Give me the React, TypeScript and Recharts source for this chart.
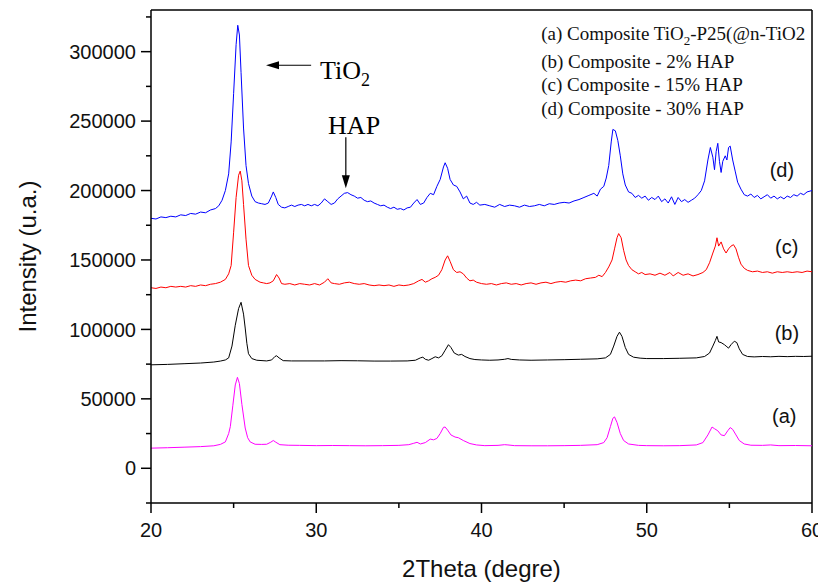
import React from "react";
import {
  LineChart,
  Line,
  XAxis,
  YAxis,
  ReferenceLine,
  ReferenceDot,
} from "recharts";

// 2Theta (deg), intensity (thousands)
const curveA: [number, number][] = [
  [20.0, 14.5], [21.0, 14.8], [22.0, 15.2], [23.0, 15.6], [23.8, 16.2], [24.2, 17.2],
  [24.5, 19], [24.7, 25], [24.8, 30], [24.95, 45], [25.1, 60], [25.23, 65.5],
  [25.35, 61], [25.5, 46], [25.7, 29], [25.85, 22], [26.0, 19], [26.3, 17.3],
  [26.7, 17.2], [27.0, 17.3], [27.25, 18.8], [27.4, 20], [27.55, 18.8], [27.8, 17],
  [28.3, 16.6], [29.0, 16.5], [30.0, 16.3], [31.0, 16.4], [32.0, 16.3], [33.0, 16.2],
  [34.0, 16.3], [35.0, 16.5], [35.6, 17], [35.9, 18], [36.1, 18.7], [36.3, 17.5],
  [36.6, 18.5], [36.9, 21], [37.1, 20.5], [37.3, 21.5], [37.5, 25], [37.7, 29.5],
  [37.8, 29.7], [37.95, 27.5], [38.15, 24], [38.4, 22.5], [38.6, 22], [38.9, 20],
  [39.3, 17.8], [39.7, 16.8], [40.2, 16.3], [41.0, 16.5], [41.4, 17], [41.6, 16.8],
  [42.0, 16.3], [43.0, 16.2], [44.0, 16.2], [45.0, 16.3], [46.0, 16.5], [47.0, 17],
  [47.4, 18.5], [47.6, 22], [47.8, 30], [47.95, 36], [48.05, 37], [48.2, 33],
  [48.4, 25], [48.6, 20], [48.9, 17.5], [49.5, 16.5], [50.0, 16.3], [51.0, 16.2],
  [52.0, 16.3], [53.0, 16.8], [53.4, 18.5], [53.7, 24], [53.95, 29.7], [54.1, 28.5],
  [54.3, 27], [54.5, 24], [54.7, 23.5], [54.9, 27], [55.05, 29.3], [55.2, 28],
  [55.4, 24], [55.6, 20], [55.9, 17.5], [56.3, 16.6], [57.0, 16.5], [57.5, 16.8],
  [58.0, 16.3], [59.0, 16.4], [60.0, 16.2],
];

const curveB: [number, number][] = [
  [20.0, 74.5], [21.0, 74.8], [22.0, 75.3], [23.0, 75.8], [23.8, 76.5], [24.2, 77.2],
  [24.5, 78], [24.7, 79.5], [24.9, 88], [25.1, 103], [25.3, 115], [25.45, 119.5],
  [25.6, 111], [25.7, 101], [25.8, 90], [25.9, 82.5], [26.1, 79], [26.4, 77.8],
  [27.0, 77.3], [27.3, 78], [27.5, 80.5], [27.6, 81], [27.75, 79.5], [28.0, 77.5],
  [28.5, 77.3], [29.5, 77.3], [30.5, 77.3], [31.5, 77.5], [32.5, 77.4], [33.5, 77.2],
  [34.5, 77.2], [35.5, 77.3], [36.0, 77.8], [36.3, 79.5], [36.45, 80], [36.6, 78.5],
  [36.8, 77.8], [37.0, 79], [37.2, 80.3], [37.4, 79.5], [37.6, 81], [37.8, 85],
  [38.0, 89], [38.15, 87], [38.35, 83], [38.6, 81.5], [38.8, 82], [39.0, 80.5],
  [39.3, 79], [39.6, 78.3], [40.0, 78], [40.5, 77.8], [41.0, 78], [41.4, 78.5],
  [41.6, 79], [41.8, 78.4], [42.3, 78], [43.0, 77.8], [44.0, 78], [45.0, 78.2],
  [46.0, 78.5], [47.0, 78.8], [47.5, 79.5], [47.8, 82], [48.0, 88], [48.2, 95],
  [48.35, 98], [48.5, 95], [48.7, 87], [48.9, 82], [49.2, 80], [49.6, 79.3],
  [50.0, 79], [51.0, 79], [52.0, 79.2], [53.0, 79.5], [53.5, 80.5], [53.8, 83],
  [54.0, 88], [54.15, 92], [54.25, 95], [54.35, 91], [54.5, 90.5], [54.7, 89],
  [54.85, 87.5], [54.95, 86.5], [55.1, 89], [55.3, 91.5], [55.45, 90.5], [55.6, 86],
  [55.8, 82], [56.1, 80.5], [56.5, 80.2], [57.0, 80.5], [57.5, 80.3], [58.0, 80.6],
  [58.5, 80.4], [59.0, 80.6], [59.5, 80.5], [60.0, 80.7],
];

const curveC: [number, number][] = [
  [20.0, 130], [20.3, 129.5], [20.6, 130.5], [20.9, 130], [21.2, 131], [21.5, 130.5],
  [21.8, 131], [22.1, 130.5], [22.4, 131.5], [22.7, 131], [23.0, 132], [23.3, 131.5],
  [23.6, 132.5], [23.9, 133], [24.2, 134], [24.5, 136], [24.7, 140], [24.85, 146],
  [25.0, 170], [25.15, 195], [25.3, 211], [25.4, 214], [25.5, 207], [25.6, 190],
  [25.75, 165], [25.9, 146], [26.1, 139], [26.3, 136], [26.6, 134], [26.8, 133.5],
  [27.0, 133], [27.2, 133.5], [27.4, 135], [27.6, 139.5], [27.75, 137], [27.9, 133],
  [28.1, 132.5], [28.4, 133], [28.7, 132], [29.0, 133], [29.3, 132.5], [29.6, 132],
  [29.9, 133], [30.2, 132], [30.5, 134], [30.7, 136.5], [30.9, 133.5], [31.1, 133],
  [31.4, 132.5], [31.7, 133.5], [32.0, 134], [32.3, 133], [32.6, 132.5], [32.9, 133],
  [33.2, 132], [33.5, 131.5], [33.8, 132], [34.1, 131.5], [34.4, 132], [34.7, 131],
  [35.0, 132], [35.3, 131.5], [35.6, 132], [35.9, 133], [36.2, 135], [36.4, 136],
  [36.6, 134], [36.8, 135], [37.0, 136.5], [37.2, 137.5], [37.4, 139], [37.6, 143],
  [37.8, 150], [37.95, 153], [38.1, 149], [38.3, 143], [38.5, 141], [38.7, 141.5],
  [38.9, 140], [39.1, 137], [39.3, 135], [39.5, 135.5], [39.7, 134], [40.0, 133],
  [40.3, 132.5], [40.6, 133], [40.9, 132], [41.2, 133], [41.5, 133.5], [41.8, 132.5],
  [42.1, 133], [42.4, 132], [42.7, 133], [43.0, 133.5], [43.3, 132.5], [43.6, 133.5],
  [43.9, 134], [44.2, 133], [44.5, 134], [44.8, 134.5], [45.1, 134], [45.4, 135],
  [45.7, 135.5], [46.0, 135], [46.3, 136.5], [46.6, 137], [46.9, 137.5], [47.1, 139],
  [47.3, 138], [47.5, 141], [47.7, 145], [47.9, 150], [48.05, 158], [48.2, 166],
  [48.3, 169], [48.45, 166], [48.6, 157], [48.75, 150], [48.9, 146], [49.1, 143],
  [49.3, 141.5], [49.5, 140], [49.7, 141], [49.9, 139.5], [50.2, 140], [50.5, 139],
  [50.8, 140.5], [51.1, 139], [51.4, 141], [51.6, 138.5], [51.9, 141], [52.2, 139],
  [52.5, 140], [52.8, 138.5], [53.1, 139.5], [53.4, 141], [53.6, 143], [53.8, 148],
  [54.0, 155], [54.15, 160], [54.25, 166], [54.35, 160], [54.5, 163], [54.65, 158],
  [54.8, 155], [54.95, 158], [55.1, 160], [55.25, 161], [55.4, 158], [55.55, 152],
  [55.7, 147], [55.9, 144], [56.1, 142.5], [56.4, 141.5], [56.7, 142], [57.0, 141],
  [57.3, 141.5], [57.6, 140.5], [57.9, 141.5], [58.2, 141], [58.5, 141.5], [58.8, 141],
  [59.1, 141.5], [59.4, 141], [59.7, 142], [60.0, 141.5],
];

const curveD: [number, number][] = [
  [20.0, 180], [20.3, 179.5], [20.6, 181], [20.9, 180.5], [21.2, 181.5], [21.5, 181],
  [21.8, 182.5], [22.1, 182], [22.4, 183.5], [22.7, 183], [23.0, 184.5], [23.3, 184],
  [23.6, 186], [23.9, 187], [24.1, 189], [24.3, 193], [24.5, 200], [24.7, 212],
  [24.85, 235], [25.0, 270], [25.15, 305], [25.25, 319], [25.35, 312], [25.45, 285],
  [25.6, 245], [25.75, 218], [25.9, 205], [26.1, 196], [26.3, 192], [26.5, 191],
  [26.7, 190.5], [26.9, 190], [27.1, 191], [27.3, 196], [27.4, 199], [27.55, 195],
  [27.7, 190], [27.9, 188], [28.1, 187.5], [28.3, 188.5], [28.5, 189.5], [28.7, 188.5],
  [28.9, 189.5], [29.1, 190], [29.3, 189], [29.5, 190], [29.7, 189], [29.9, 190],
  [30.1, 189], [30.3, 191], [30.5, 194], [30.7, 192], [30.9, 190], [31.1, 191],
  [31.3, 194], [31.5, 196], [31.7, 198], [31.9, 198.5], [32.1, 197], [32.3, 196],
  [32.5, 194.5], [32.7, 195], [32.9, 193], [33.1, 192], [33.3, 192.5], [33.5, 191],
  [33.7, 190], [33.9, 189], [34.1, 189.5], [34.3, 188], [34.5, 187], [34.7, 188],
  [34.9, 186.5], [35.1, 187], [35.3, 186], [35.5, 187.5], [35.7, 188], [35.9, 191],
  [36.1, 193.5], [36.3, 190], [36.5, 191], [36.7, 195], [36.9, 198], [37.1, 197],
  [37.3, 203], [37.5, 208], [37.7, 217], [37.8, 220], [37.95, 216], [38.1, 208],
  [38.3, 204], [38.5, 203], [38.7, 199], [38.9, 194], [39.1, 196], [39.3, 191],
  [39.5, 190], [39.7, 191.5], [39.9, 189.5], [40.2, 190], [40.5, 189], [40.8, 188],
  [41.1, 190], [41.4, 188.5], [41.7, 189.5], [42.0, 189], [42.3, 188], [42.6, 189.5],
  [42.9, 188.5], [43.2, 189], [43.5, 190], [43.8, 189], [44.1, 190.5], [44.4, 190],
  [44.7, 191], [45.0, 191.5], [45.3, 191], [45.6, 192.5], [45.9, 193.5], [46.2, 195],
  [46.5, 196.5], [46.8, 198], [47.0, 196], [47.2, 201], [47.4, 203], [47.55, 209],
  [47.7, 218], [47.85, 235], [47.95, 244], [48.1, 243], [48.25, 236], [48.4, 225],
  [48.55, 212], [48.7, 204], [48.9, 199], [49.1, 198], [49.3, 195], [49.5, 196.5],
  [49.7, 194.5], [49.9, 196], [50.1, 193], [50.3, 195], [50.5, 193.5], [50.7, 196],
  [50.9, 192], [51.1, 194], [51.3, 191], [51.5, 195.5], [51.7, 190], [51.9, 195],
  [52.1, 192], [52.3, 193.5], [52.5, 191.5], [52.7, 193], [52.9, 194.5], [53.1, 197],
  [53.3, 200], [53.5, 207], [53.7, 222], [53.85, 231], [54.0, 224], [54.1, 215],
  [54.2, 228], [54.3, 234], [54.4, 221], [54.5, 213], [54.6, 221], [54.75, 225],
  [54.85, 222], [54.95, 231], [55.05, 232], [55.2, 222], [55.35, 214], [55.5, 206],
  [55.7, 201], [55.9, 197], [56.1, 196], [56.3, 197.5], [56.5, 195], [56.7, 196.5],
  [56.9, 194], [57.1, 195.5], [57.3, 197], [57.5, 194.5], [57.7, 196], [57.9, 194],
  [58.1, 195.5], [58.3, 194], [58.5, 196], [58.7, 195], [58.9, 197], [59.1, 196],
  [59.3, 198], [59.5, 197], [59.7, 199], [60.0, 200],
];

const xTicks = [20, 25, 30, 35, 40, 45, 50, 55, 60];
const yTicks = [
  -25000, 0, 25000, 50000, 75000, 100000, 125000, 150000, 175000, 200000,
  225000, 250000, 275000, 300000, 325000,
];

const legendLines = [
  "(b) Composite - 2% HAP",
  "(c) Composite - 15% HAP",
  "(d) Composite - 30% HAP",
];

const toRows = (pts: [number, number][]) => pts.map(([x, y]) => ({ x, y: y * 1000 }));

const SANS = "'Liberation Sans', Arial, sans-serif";
const SERIF = "'Liberation Serif', 'Times New Roman', serif";
const TICK = 10;
const MINOR = 5;
const YGAP = 5;
const XGAP = 10;

function YTick(props: any) {
  const { x, y, payload } = props;
  const v = payload.value;
  const major = v % 50000 === 0 && v >= 0;
  const edge = x + YGAP + TICK;
  return (
    <g>
      <line x1={edge - (major ? TICK : MINOR)} x2={edge} y1={y} y2={y} stroke="#000" strokeWidth={1.5} />
      {major && (
        <text x={x} y={y} dy="0.355em" textAnchor="end" fontSize={20} fontFamily={SANS} fill="#111">
          {v}
        </text>
      )}
    </g>
  );
}

function XTick(props: any) {
  const { x, y, payload } = props;
  const v = payload.value;
  const major = v % 10 === 0;
  const edge = y - XGAP - TICK;
  return (
    <g>
      <line x1={x} x2={x} y1={edge} y2={edge + (major ? TICK : MINOR)} stroke="#000" strokeWidth={1.5} />
      {major && (
        <text x={x} y={y} dy="0.71em" textAnchor="middle" fontSize={20} fontFamily={SANS} fill="#111">
          {v}
        </text>
      )}
    </g>
  );
}

const seriesLabel = (txt: string) => (p: any) => (
  <text x={p.cx} y={p.cy} dy="0.355em" textAnchor="middle" fontSize={20} fontFamily={SANS} fill="#111">
    {txt}
  </text>
);

export default function App() {
  return (
    <div style={{ width: 818, height: 577 }}>
      <LineChart width={818} height={577} margin={{ top: 2, right: 14, bottom: 0, left: 0 }}>
        <XAxis
          type="number"
          dataKey="x"
          domain={[20, 60]}
          ticks={xTicks}
          interval={0}
          allowDataOverflow
          height={82}
          tickSize={TICK}
          tickMargin={XGAP}
          tickLine={false}
          tick={<XTick />}
          axisLine={{ stroke: "#000", strokeWidth: 1.5 }}
          label={{
            value: "2Theta (degre)",
            position: "insideBottom",
            offset: 8,
            fontSize: 24,
            fontFamily: SANS,
            fill: "#111",
          }}
        />
        <YAxis
          type="number"
          domain={[-25000, 330000]}
          ticks={yTicks}
          interval={0}
          allowDataOverflow
          width={143}
          tickSize={TICK}
          tickMargin={YGAP}
          tickLine={false}
          tick={<YTick />}
          axisLine={{ stroke: "#000", strokeWidth: 1.5 }}
          label={{
            value: "Intensity (u.a.)",
            angle: -90,
            position: "insideLeft",
            offset: 19,
            fontSize: 24,
            fontFamily: SANS,
            fill: "#111",
            style: { textAnchor: "middle" },
          }}
        />
        <ReferenceLine y={330000} stroke="#000" strokeWidth={1.5} />
        <ReferenceLine x={60} stroke="#000" strokeWidth={1.5} />

        <Line data={toRows(curveA)} dataKey="y" type="linear" dot={false} stroke="#ff00ff" strokeWidth={1} isAnimationActive={false} />
        <Line data={toRows(curveB)} dataKey="y" type="linear" dot={false} stroke="#000000" strokeWidth={1} isAnimationActive={false} />
        <Line data={toRows(curveC)} dataKey="y" type="linear" dot={false} stroke="#ff0000" strokeWidth={1} isAnimationActive={false} />
        <Line data={toRows(curveD)} dataKey="y" type="linear" dot={false} stroke="#0000ff" strokeWidth={1} isAnimationActive={false} />

        {/* TiO2 arrow */}
        <ReferenceLine segment={[{ x: 27.2, y: 290200 }, { x: 29.69, y: 290200 }]} stroke="#000" strokeWidth={1.2} />
        <ReferenceDot
          x={26.96}
          y={290200}
          r={0}
          shape={(p: any) => (
            <polygon points={`${p.cx},${p.cy} ${p.cx + 13},${p.cy - 4} ${p.cx + 13},${p.cy + 4}`} fill="#000" />
          )}
        />
        <ReferenceDot
          x={30.23}
          y={286600}
          r={0}
          shape={(p: any) => (
            <text x={p.cx} y={p.cy} dy="0.35em" fontSize={26} fontFamily={SERIF} fill="#000">
              <tspan>TiO</tspan>
              <tspan dy="7" fontSize={18}>2</tspan>
            </text>
          )}
        />

        {/* HAP arrow */}
        <ReferenceLine segment={[{ x: 31.79, y: 238400 }, { x: 31.79, y: 205000 }]} stroke="#000" strokeWidth={1.2} />
        <ReferenceDot
          x={31.79}
          y={201600}
          r={0}
          shape={(p: any) => (
            <polygon points={`${p.cx},${p.cy} ${p.cx - 4},${p.cy - 13} ${p.cx + 4},${p.cy - 13}`} fill="#000" />
          )}
        />
        <ReferenceDot
          x={32.29}
          y={247000}
          r={0}
          shape={(p: any) => (
            <text x={p.cx} y={p.cy} dy="0.35em" textAnchor="middle" fontSize={26} fontFamily={SERIF} fill="#000">
              HAP
            </text>
          )}
        />

        {/* legend text */}
        <ReferenceDot
          x={43.61}
          y={313500}
          r={0}
          shape={(p: any) => (
            <text x={p.cx} y={p.cy} dy="0.35em" fontSize={19} fontFamily={SERIF} fill="#111">
              <tspan>(a) Composite TiO</tspan>
              <tspan dy="5" fontSize={13}>2</tspan>
              <tspan dy="-5">-P25(@n-TiO2</tspan>
            </text>
          )}
        />
        {legendLines.map((t, i) => (
          <ReferenceDot
            key={t}
            x={43.61}
            y={[293100, 276300, 259500][i]}
            r={0}
            shape={(p: any) => (
              <text x={p.cx} y={p.cy} dy="0.35em" fontSize={19} fontFamily={SERIF} fill="#111">
                {t}
              </text>
            )}
          />
        ))}

        <ReferenceDot x={58.18} y={214600} r={0} shape={seriesLabel("(d)")} />
        <ReferenceDot x={58.47} y={159100} r={0} shape={seriesLabel("(c)")} />
        <ReferenceDot x={58.48} y={97400} r={0} shape={seriesLabel("(b)")} />
        <ReferenceDot x={58.32} y={37400} r={0} shape={seriesLabel("(a)")} />
      </LineChart>
    </div>
  );
}
